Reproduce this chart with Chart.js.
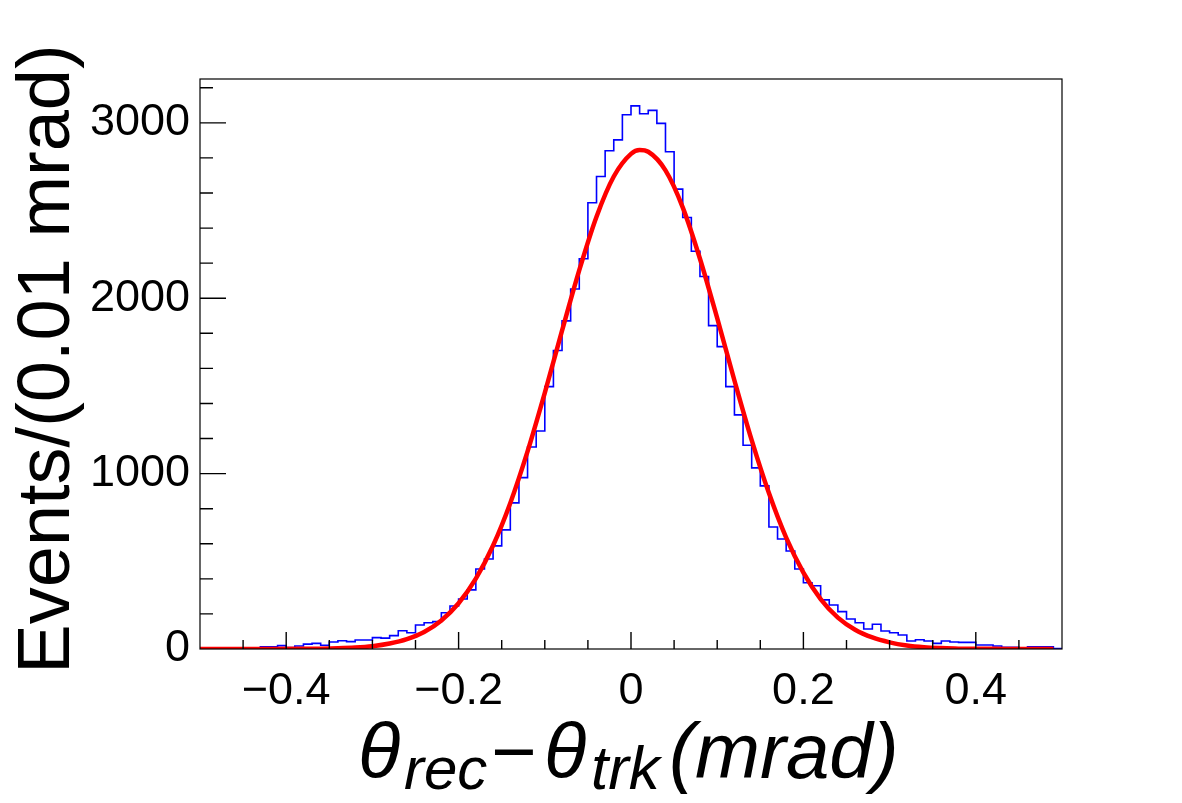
<!DOCTYPE html>
<html>
<head>
<meta charset="utf-8">
<script src="https://cdn.jsdelivr.net/npm/chart.js@4.4.1/dist/chart.umd.min.js"></script>
<style>
    html, body { margin: 0; padding: 0; background: #fff; }
    canvas { display: block; }
</style>
</head>
<body>
<canvas id="thetaChart" width="1182" height="803"></canvas>
<script>
// histogram: 100 bins of 0.01 mrad from -0.5 to 0.5
const binStart = -0.5;
const binWidth = 0.01;
const counts = [
    1, 2, 4, 5, 5, 6, 7, 13, 13, 19,
    8, 17, 28, 32, 21, 40, 47, 42, 51, 51,
    65, 62, 76, 104, 93, 137, 150, 156, 207, 245,
    285, 337, 456, 513, 588, 679, 833, 977, 1152, 1243,
    1496, 1702, 1871, 2053, 2225, 2544, 2694, 2841, 2903, 3046,
    3097, 3052, 3071, 2997, 2835, 2622, 2460, 2268, 2124, 1844,
    1724, 1496, 1335, 1162, 1033, 930, 696, 627, 559, 456,
    378, 361, 280, 251, 213, 171, 150, 114, 141, 103,
    93, 80, 46, 53, 46, 32, 46, 40, 38, 38,
    23, 23, 17, 9, 9, 3, 13, 13, 13, 3
];

// fitted curve
const fitX = [-0.5, -0.46, -0.42, -0.38, -0.36, -0.34, -0.32, -0.30, -0.28, -0.26, -0.24, -0.22, -0.20,
    -0.18, -0.16, -0.14, -0.12, -0.10, -0.08, -0.06, -0.04, -0.02, 0.00, 0.01, 0.02, 0.04, 0.06, 0.08,
    0.10, 0.12, 0.14, 0.16, 0.18, 0.20, 0.22, 0.24, 0.26, 0.28, 0.30, 0.32, 0.34, 0.36, 0.38, 0.42, 0.46, 0.49];
const fitY = [0, 0, 0, 1, 2, 4, 8, 16, 31, 56, 97, 163, 261,
    401, 590, 833, 1127, 1461, 1815, 2160, 2465, 2694, 2823, 2845, 2835, 2729, 2518, 2225,
    1886, 1531, 1191, 889, 635, 436, 285, 179, 110, 66, 38, 20, 10, 5, 2, 1, 0, 0];

const xMajorTicks = [-0.4, -0.2, 0, 0.2, 0.4];
const xTickLabels = ['\u22120.4', '\u22120.2', '0', '0.2', '0.4'];
const yMajorTicks = [0, 1000, 2000, 3000];
const yTickLabels = ['0', '1000', '2000', '3000'];
const yAxisTitle = 'Events/(0.01 mrad)';

const fontFamily = "'Liberation Sans', Arial, Helvetica, sans-serif";

const histPoints = counts.map((c, i) => ({ x: binStart + i * binWidth, y: c }));
histPoints.push({ x: binStart + counts.length * binWidth, y: counts[counts.length - 1] });
const fitPoints = fitX.map((x, i) => ({ x: x, y: fitY[i] }));

// frame, inward ticks and the two axis titles, ROOT style
const rootFrame = {
    id: 'rootFrame',
    afterDraw(chart) {
        const { ctx, chartArea: a } = chart;
        const xs = chart.scales.x, ys = chart.scales.y;
        ctx.save();
        ctx.strokeStyle = '#000';
        ctx.lineWidth = 1.2;
        ctx.strokeRect(a.left, a.top, a.right - a.left, a.bottom - a.top);

        ctx.lineWidth = 1.4;
        ctx.beginPath();
        for (let k = -9; k <= 9; k++) {
            const px = xs.getPixelForValue(k * 0.05);
            const len = (k % 4 === 0) ? 17 : 9;
            ctx.moveTo(px, a.bottom);
            ctx.lineTo(px, a.bottom - len);
        }
        for (let k = 1; k <= 16; k++) {
            const py = ys.getPixelForValue(k * 200);
            const len = (k % 5 === 0) ? 26 : 13;
            ctx.moveTo(a.left, py);
            ctx.lineTo(a.left + len, py);
        }
        ctx.stroke();

        ctx.fillStyle = '#000';
        // y title
        ctx.save();
        ctx.translate(69, 359);
        ctx.rotate(-Math.PI / 2);
        ctx.font = '74px ' + fontFamily;
        ctx.textAlign = 'center';
        ctx.textBaseline = 'alphabetic';
        ctx.fillText(yAxisTitle, 0, 0);
        ctx.restore();

        // x title: θ_rec − θ_trk(mrad)
        const pieces = [
            ['\u03b8', 358, 78, 0],
            ['rec', 404, 60, 11],
            ['\u2212', 490, 78, 0],
            ['\u03b8', 544, 78, 0],
            ['trk', 591, 62, 11],
            ['(mrad)', 669, 78, 0]
        ];
        ctx.textAlign = 'left';
        ctx.textBaseline = 'alphabetic';
        pieces.forEach(p => {
            ctx.font = 'italic ' + p[2] + 'px ' + fontFamily;
            ctx.fillText(p[0], p[1], 778 + p[3]);
        });
        ctx.restore();
    }
};

new Chart(document.getElementById('thetaChart'), {
    type: 'line',
    data: {
        datasets: [
            {
                label: 'fit',
                data: fitPoints,
                borderColor: '#ff0000',
                borderWidth: 4.5,
                pointRadius: 0,
                fill: false,
                cubicInterpolationMode: 'monotone'
            },
            {
                label: 'hist',
                data: histPoints,
                borderColor: '#0000ff',
                borderWidth: 1.6,
                pointRadius: 0,
                fill: false,
                stepped: 'before'
            }
        ]
    },
    options: {
        responsive: false,
        animation: false,
        devicePixelRatio: 1,
        layout: { padding: { left: 0, top: 79, right: 120, bottom: 0 } },
        plugins: {
            legend: { display: false },
            tooltip: { enabled: false }
        },
        scales: {
            x: {
                type: 'linear',
                min: -0.5,
                max: 0.5,
                grid: { display: false },
                border: { display: false },
                afterBuildTicks: (scale) => { scale.ticks = xMajorTicks.map(v => ({ value: v })); },
                afterFit: (scale) => { scale.height = 154; },
                ticks: {
                    autoSkip: false,
                    maxRotation: 0,
                    padding: 8,
                    color: '#000',
                    font: { family: fontFamily, size: 45 },
                    callback: (value, index) => xTickLabels[index]
                }
            },
            y: {
                type: 'linear',
                min: 0,
                max: 3250,
                grid: { display: false },
                border: { display: false },
                afterBuildTicks: (scale) => { scale.ticks = yMajorTicks.map(v => ({ value: v })); },
                afterFit: (scale) => { scale.width = 200; },
                ticks: {
                    padding: 2,
                    color: '#000',
                    font: { family: fontFamily, size: 45 },
                    callback: (value, index) => yTickLabels[index]
                }
            }
        }
    },
    plugins: [rootFrame]
});
</script>
</body>
</html>
